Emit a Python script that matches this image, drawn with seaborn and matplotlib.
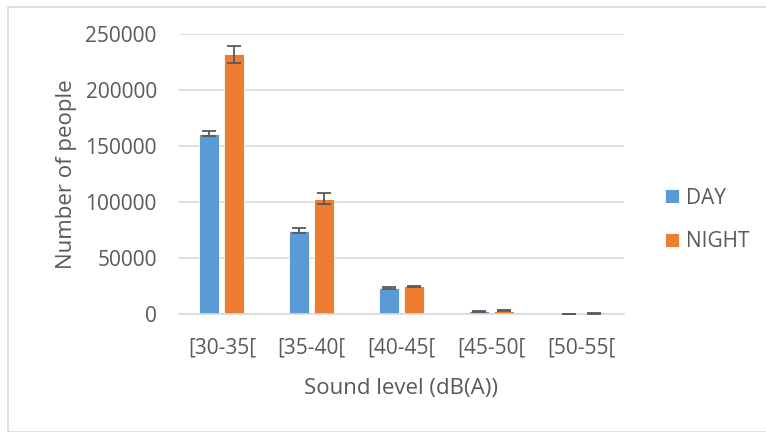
import matplotlib
matplotlib.use("Agg")
import matplotlib.pyplot as plt
from matplotlib.patches import Rectangle
import pandas as pd
import seaborn as sns

# values
levels = ["[30-35[", "[35-40[", "[40-45[", "[45-50[", "[50-55["]
day = [161000, 74500, 23200, 2600, 300]
night = [232000, 103000, 24800, 2800, 400]
day_err = [2000, 2200, 500, 400, 100]
night_err = [7600, 4600, 600, 500, 100]

colors = {"DAY": "#5B9BD5", "NIGHT": "#ED7D31"}
text_color = "#595959"
grid_color = "#D9D9D9"

sns.set_theme(style="white")
plt.rcParams["font.family"] = ["Open Sans", "DejaVu Sans"]

df = pd.DataFrame({
    "level": levels * 2,
    "people": day + night,
    "period": ["DAY"] * len(levels) + ["NIGHT"] * len(levels),
})
errs = {"DAY": day_err, "NIGHT": night_err}

fig = plt.figure(figsize=(7.66, 4.32), dpi=100)
ax = fig.add_axes([179 / 766, 1 - 314 / 432, 445 / 766, 280 / 432])

sns.barplot(data=df, x="level", y="people", hue="period", palette=colors,
            errorbar=None, width=0.56, gap=0.2, saturation=1,
            edgecolor="white", linewidth=0.6, ax=ax)

# error bars on top of each bar, using the bars seaborn placed
for cont, period in zip(ax.containers, ["DAY", "NIGHT"]):
    xs = [p.get_x() + p.get_width() / 2 for p in cont.patches]
    ys = [p.get_height() for p in cont.patches]
    ax.errorbar(xs, ys, yerr=errs[period], fmt="none", ecolor="#595959",
                elinewidth=1.3, capsize=5, capthick=1.3, zorder=5)

ax.set_ylim(0, 250000)
ax.set_yticks(range(0, 250001, 50000))
ax.yaxis.grid(True, color=grid_color, linewidth=1.2)
ax.set_axisbelow(True)
for s in ["top", "right", "left"]:
    ax.spines[s].set_visible(False)
ax.spines["bottom"].set_color(grid_color)
ax.spines["bottom"].set_linewidth(1.2)
ax.tick_params(axis="both", length=0, labelsize=15, colors=text_color)
ax.tick_params(axis="x", pad=17)
ax.tick_params(axis="y", pad=16)

ax.set_xlabel("Sound level (dB(A))", fontsize=16, color=text_color, labelpad=14)
ax.set_ylabel("Number of people", fontsize=16, color=text_color, labelpad=6)

leg = ax.legend(loc="center left", bbox_to_anchor=(665 / 766, 1 - 220 / 432),
                bbox_transform=fig.transFigure, frameon=False, borderpad=0,
                borderaxespad=0, fontsize=15, labelcolor=text_color,
                handlelength=0.67, handleheight=0.67, handletextpad=0.35,
                labelspacing=1.1)

fig.patches.append(Rectangle((8 / 766, 0), 1, 1 - 7 / 432, transform=fig.transFigure,
                             fill=False, edgecolor=grid_color, linewidth=1.2))

fig.savefig("out.png", dpi=100)
